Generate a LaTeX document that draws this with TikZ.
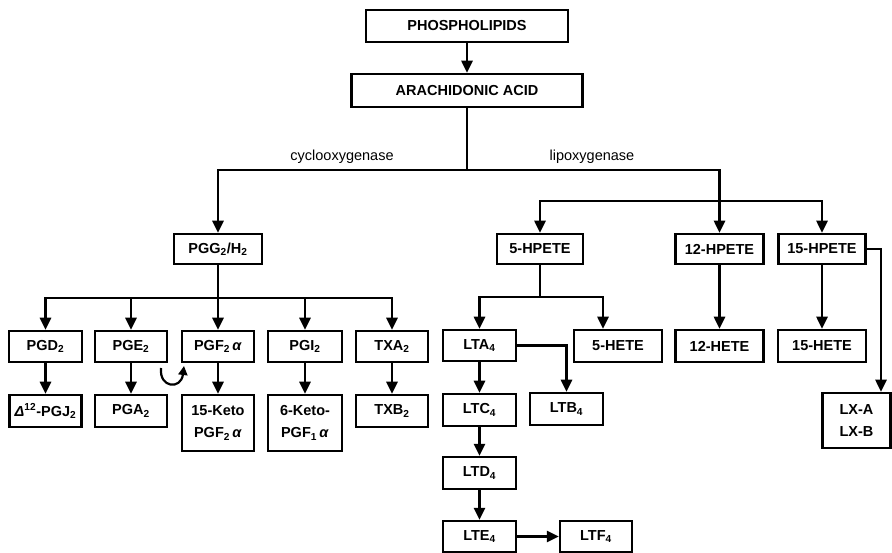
\documentclass[tikz,border=0pt]{standalone}
\usepackage{fontspec}
\setmainfont{Liberation Sans}
\usetikzlibrary{arrows.meta}
\begin{document}
\begin{tikzpicture}[x=1pt,y=-1pt,
  box/.style={draw, line width=2.5pt, fill=white, inner sep=0pt, align=center,
    font=\fontsize{14.5}{22}\selectfont\bfseries},
  conn/.style={line width=2.5pt},
  arr/.style={line width=2.5pt, -{Triangle[length=12pt,width=11pt]}},
  smallarr/.style={line width=2.2pt, -{Triangle[length=9pt,width=9pt]}},
  lbl/.style={font=\fontsize{14.5}{17}\selectfont, inner sep=0pt}
]
\useasboundingbox (0,0) rectangle (892,553);

% top
\node[box, minimum width=202pt, minimum height=32pt] (phos) at (467,26) {PHOSPHOLIPIDS};
\node[box, minimum width=231pt, minimum height=33pt] (arach) at (467,90.5) {ARACHIDONIC ACID};

% second level
\node[box, minimum width=88pt, minimum height=30pt] (pgg) at (218,249) {PGG\textsubscript{2}/H\textsubscript{2}};
\node[box, minimum width=86pt, minimum height=30pt] (hp5) at (540,249) {5-HPETE};
\node[box, minimum width=88pt, minimum height=30pt] (hp12) at (719.5,249) {12-HPETE};
\node[box, minimum width=87pt, minimum height=30pt] (hp15) at (822,249) {15-HPETE};

% prostaglandin row 1
\node[box, minimum width=73pt, minimum height=31pt] (pgd) at (45.5,346.5) {PGD\textsubscript{2}};
\node[box, minimum width=72pt, minimum height=31pt] (pge) at (131,346.5) {PGE\textsubscript{2}};
\node[box, minimum width=72pt, minimum height=31pt] (pgf) at (218,346.5) {PGF\textsubscript{2}\,\textit{α}};
\node[box, minimum width=74pt, minimum height=31pt] (pgi) at (305,346.5) {PGI\textsubscript{2}};
\node[box, minimum width=72pt, minimum height=31pt] (txa) at (392,346.5) {TXA\textsubscript{2}};

% prostaglandin row 2
\node[box, minimum width=72pt, minimum height=32pt] (pgj) at (45.5,411) {\textit{Δ}\textsuperscript{12}-PGJ\textsubscript{2}};
\node[box, minimum width=72pt, minimum height=32pt] (pga) at (131,411) {PGA\textsubscript{2}};
\node[box, minimum width=72pt, minimum height=56pt] (keto15) at (218,423) {15-Keto\\PGF\textsubscript{2}\,\textit{α}};
\node[box, minimum width=74pt, minimum height=56pt] (keto6) at (305,423) {6-Keto-\\PGF\textsubscript{1}\,\textit{α}};
\node[box, minimum width=72pt, minimum height=32pt] (txb) at (392,411) {TXB\textsubscript{2}};

% lipoxygenase products
\node[box, minimum width=73pt, minimum height=31pt] (lta) at (479.5,345.5) {LTA\textsubscript{4}};
\node[box, minimum width=88pt, minimum height=32pt] (hete5) at (618,346) {5-HETE};
\node[box, minimum width=88pt, minimum height=32pt] (hete12) at (719.5,346) {12-HETE};
\node[box, minimum width=88pt, minimum height=32pt] (hete15) at (822,346) {15-HETE};
\node[box, minimum width=73pt, minimum height=32pt] (ltc) at (479.5,410) {LTC\textsubscript{4}};
\node[box, minimum width=73pt, minimum height=32pt] (ltb) at (566.5,409) {LTB\textsubscript{4}};
\node[box, minimum width=73pt, minimum height=32pt] (ltd) at (479.5,473) {LTD\textsubscript{4}};
\node[box, minimum width=73pt, minimum height=31pt] (lte) at (479.5,536.5) {LTE\textsubscript{4}};
\node[box, minimum width=72pt, minimum height=31pt] (ltf) at (596,536.5) {LTF\textsubscript{4}};
\node[box, minimum width=68pt, minimum height=55pt] (lx) at (856.5,420.5) {LX-A\\LX-B};

% enzyme labels
\node[lbl] (cox) at (342,157) {cyclooxygenase};
\node[lbl] (lox) at (592,157) {lipoxygenase};

% connectors
\coordinate (split) at (467,170);
\coordinate (lbus) at (719.5,201);
\coordinate (pbus) at (218,298);
\coordinate (hbus) at (540,297);
\coordinate (h5in) at ([xshift=-15pt]hete5.north);
\coordinate (lxin) at ([xshift=24.5pt]lx.north);
\coordinate (curlstart) at (161,368);
\coordinate (curlend) at (184,366);

\draw[arr] (phos) -- (arach);
\draw[conn] (arach.south) -- (split);
\draw[arr] (split) -| (pgg.north);
\draw[arr] (split) -| (hp12.north);
\draw[arr] (lbus) -| (hp5.north);
\draw[arr] (lbus) -| (hp15.north);

\draw[conn] (pgg.south) -- (pbus);
\draw[arr] (pbus) -| (pgd.north);
\draw[arr] (pbus) -| (pge.north);
\draw[arr] (pbus) -- (pgf.north);
\draw[arr] (pbus) -| (pgi.north);
\draw[arr] (pbus) -| (txa.north);

\draw[arr] (pgd) -- (pgj);
\draw[arr] (pge) -- (pga);
\draw[arr] (pgf) -- (keto15);
\draw[arr] (pgi) -- (keto6);
\draw[arr] (txa) -- (txb);
\draw[smallarr] (curlstart) .. controls (159,388) and (181,390) .. (curlend);

\draw[conn] (hp5.south) -- (hbus);
\draw[arr] (hbus) -| (lta.north);
\draw[arr] (hbus) -| (h5in);
\draw[arr] (hp12) -- (hete12);
\draw[arr] (hp15) -- (hete15);
\draw[arr] (hp15.east) -| (lxin);

\draw[arr] (lta.east) -| (ltb.north);
\draw[arr] (lta) -- (ltc);
\draw[arr] (ltc) -- (ltd);
\draw[arr] (ltd) -- (lte);
\draw[arr] (lte) -- (ltf);
\end{tikzpicture}
\end{document}
